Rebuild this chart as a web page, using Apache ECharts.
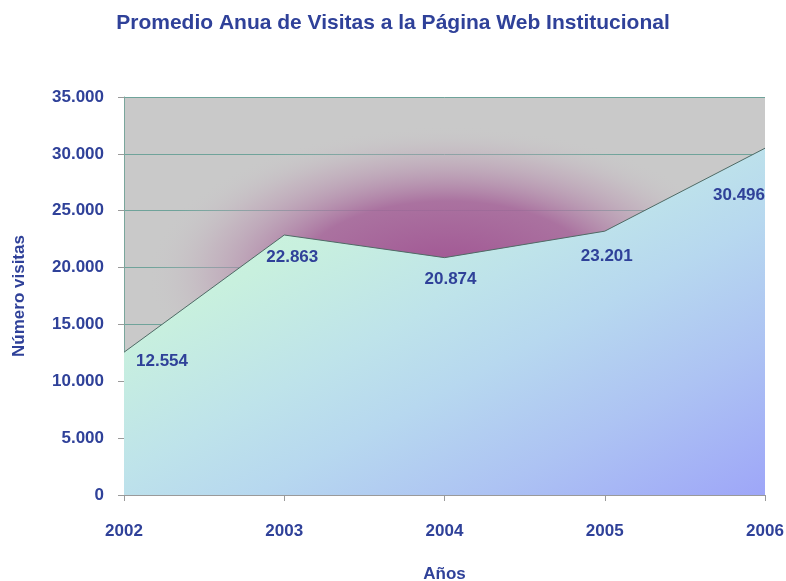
<!DOCTYPE html>
<html>
<head>
<meta charset="utf-8">
<script src="https://cdn.jsdelivr.net/npm/echarts@6/dist/echarts.min.js"></script>
<style>
html,body{margin:0;padding:0;background:#fff;}
#chart{width:786px;height:581px;}
</style>
</head>
<body>
<div id="chart"></div>
<script>
// ---- data ----
var years = ['2002', '2003', '2004', '2005', '2006'];
var visits = [12554, 22863, 20874, 23201, 30496];
var yTicks = { min: 0, max: 35000, interval: 5000 };

// ---- label placement (style, not data) ----
var labelOffsets = [[38, 9], [8, 22], [6, 22], [2, 25], [-26, 47]];

var FONT = "'Liberation Sans', Arial, sans-serif";
var TXT = '#2f4199';

function fmt(v) {
  return String(v).replace(/\B(?=(\d{3})+(?!\d))/g, '.');
}

var G = { left: 124, right: 21, top: 97, bottom: 86 };
var W = 786, H = 581;
var pw = W - G.left - G.right, ph = H - G.top - G.bottom;

var chart = echarts.init(document.getElementById('chart'));
chart.setOption({
  backgroundColor: '#ffffff',
  animation: false,
  title: {
    text: 'Promedio Anua de Visitas a la Página Web Institucional',
    left: 'center',
    top: 8,
    textStyle: { color: TXT, fontFamily: FONT, fontWeight: 'bold', fontSize: 21 }
  },
  graphic: [{
    type: 'group',
    z: -10,
    silent: true,
    children: [
      {
        type: 'rect',
        z2: 0,
        shape: { x: G.left, y: G.top, width: pw, height: ph },
        style: { fill: '#c9c9c9' }
      },
      {
        type: 'circle',
        z2: 1,
        x: G.left + pw * 0.505,
        y: G.top + ph * 0.45,
        scaleY: 0.5,
        shape: { cx: 0, cy: 0, r: 300 },
        style: {
          fill: {
            type: 'radial', x: 0.5, y: 0.5, r: 0.5,
            colorStops: [
              { offset: 0, color: 'rgba(160,82,146,1)' },
              { offset: 0.5, color: 'rgba(166,102,154,0.88)' },
              { offset: 0.8, color: 'rgba(190,160,182,0.42)' },
              { offset: 1, color: 'rgba(201,201,201,0)' }
            ]
          }
        }
      }
    ]
  }],
  grid: { left: G.left, right: G.right, top: G.top, bottom: G.bottom, containLabel: false, outerBoundsMode: 'none' },
  xAxis: {
    type: 'category',
    data: years,
    boundaryGap: false,
    name: 'Años',
    nameLocation: 'middle',
    nameGap: 71,
    nameTextStyle: { color: TXT, fontFamily: FONT, fontWeight: 'bold', fontSize: 17 },
    axisLine: { lineStyle: { color: '#9a9a9a', width: 1 } },
    axisTick: { show: true, length: 6, alignWithLabel: true, lineStyle: { color: '#9a9a9a' } },
    axisLabel: { color: TXT, fontFamily: FONT, fontWeight: 'bold', fontSize: 17, margin: 28 },
    splitLine: { show: false }
  },
  yAxis: {
    type: 'value',
    min: yTicks.min,
    max: yTicks.max,
    interval: yTicks.interval,
    name: 'Número visitas',
    nameLocation: 'middle',
    nameGap: 96,
    nameRotate: 90,
    nameTextStyle: { color: TXT, fontFamily: FONT, fontWeight: 'bold', fontSize: 17 },
    axisLine: { show: true, lineStyle: { color: '#7aa69c', width: 1 } },
    axisTick: { show: true, length: 6, lineStyle: { color: '#9a9a9a' } },
    axisLabel: {
      color: TXT, fontFamily: FONT, fontWeight: 'bold', fontSize: 17, margin: 20,
      formatter: function (v) { return fmt(v); }
    },
    splitLine: { show: true, lineStyle: { color: '#6fa39a', width: 1 } }
  },
  series: [{
    type: 'line',
    data: visits.map(function (v, i) {
      return {
        value: v,
        label: { offset: labelOffsets[i] }
      };
    }),
    symbol: 'circle',
    symbolSize: 1,
    showSymbol: true,
    itemStyle: { color: 'rgba(0,0,0,0)' },
    lineStyle: { color: '#4f6b66', width: 1 },
    areaStyle: {
      opacity: 1,
      color: {
        type: 'linear', x: 0, y: 0, x2: 0.449, y2: 1.546,
        colorStops: [
          { offset: 0, color: '#d0f8da' },
          { offset: 0.28, color: '#c8f0de' },
          { offset: 0.47, color: '#bee3ea' },
          { offset: 0.6, color: '#b7d8ef' },
          { offset: 0.78, color: '#adc3f3' },
          { offset: 1, color: '#9ea6f8' }
        ]
      }
    },
    label: {
      show: true,
      position: 'inside',
      color: TXT,
      fontFamily: FONT,
      fontWeight: 'bold',
      fontSize: 17,
      formatter: function (p) { return fmt(p.value); }
    }
  }]
});
</script>
</body>
</html>
